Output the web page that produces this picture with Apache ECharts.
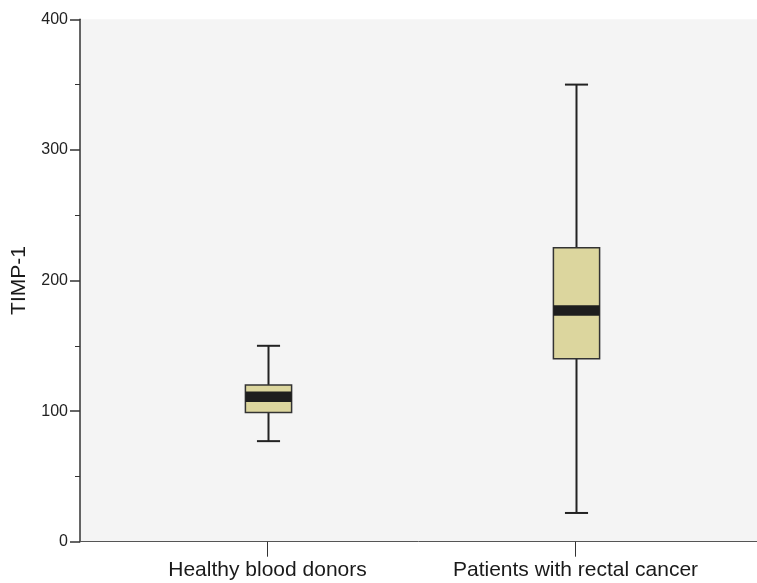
<!DOCTYPE html>
<html>
<head>
<meta charset="utf-8">
<script src="https://cdn.jsdelivr.net/npm/echarts@6/dist/echarts.min.js"></script>
<style>
html,body{margin:0;padding:0;background:#fff;}
#c{width:757px;height:583px;}
</style>
</head>
<body>
<div id="c"></div>
<script>
const categories = ['Healthy blood donors', 'Patients with rectal cancer'];
const whiskerLow = [77, 22];
const q1Values = [99, 140];
const medianValues = [111, 177];
const q3Values = [120, 225];
const whiskerHigh = [150, 350];
const yTicks = [0, 100, 200, 300, 400];

const boxData = categories.map((c, i) => [i, whiskerLow[i], q1Values[i], medianValues[i], q3Values[i], whiskerHigh[i]]);

function renderBox(params, api) {
  const x = api.value(0);
  const lo = api.coord([x, api.value(1)]);
  const q1 = api.coord([x, api.value(2)]);
  const md = api.coord([x, api.value(3)]);
  const q3 = api.coord([x, api.value(4)]);
  const hi = api.coord([x, api.value(5)]);
  const band = api.size([1, 0])[0];
  const bw = band * 0.15;
  const cw = bw / 2;
  const cx = Math.round(lo[0]) + 0.5;
  const lineStyle = { stroke: '#222', lineWidth: 2 };
  return {
    type: 'group',
    children: [
      { type: 'line', shape: { x1: cx, y1: hi[1], x2: cx, y2: q3[1] }, style: lineStyle },
      { type: 'line', shape: { x1: cx, y1: q1[1], x2: cx, y2: lo[1] }, style: lineStyle },
      { type: 'line', shape: { x1: cx - cw / 2, y1: hi[1], x2: cx + cw / 2, y2: hi[1] }, style: lineStyle },
      { type: 'line', shape: { x1: cx - cw / 2, y1: lo[1], x2: cx + cw / 2, y2: lo[1] }, style: lineStyle },
      { type: 'rect', shape: { x: cx - bw / 2, y: q3[1], width: bw, height: q1[1] - q3[1] },
        style: { fill: '#dcd69e', stroke: '#333', lineWidth: 1.5 } },
      { type: 'rect', shape: { x: cx - bw / 2, y: md[1] - 5.3, width: bw, height: 10.6 },
        style: { fill: '#1e1e1e' } }
    ]
  };
}

const chart = echarts.init(document.getElementById('c'));
chart.setOption({
  backgroundColor: '#fff',
  animation: false,
  grid: [
    { left: 80, right: 0, top: 19.3, bottom: 41.3, show: true, backgroundColor: '#f4f4f4', borderWidth: 0 },
    { left: 113.5, width: 616, top: 19.3, bottom: 41.3 }
  ],
  xAxis: [
    { type: 'value', gridIndex: 0, min: 0, max: 1,
      axisLine: { show: true, onZero: false, lineStyle: { color: '#555', width: 1 } },
      axisTick: { show: false }, axisLabel: { show: false }, splitLine: { show: false } },
    { type: 'category', gridIndex: 1, data: categories,
      axisLine: { show: false },
      axisTick: { show: true, alignWithLabel: true, interval: 0, length: 15, lineStyle: { color: '#333', width: 1 } },
      axisLabel: { interval: 0, fontSize: 21, color: '#1a1a1a', margin: 18, fontFamily: 'Liberation Sans, Arial, sans-serif' } }
  ],
  yAxis: [
    { type: 'value', gridIndex: 0, min: 0, max: 400, interval: 100,
      name: 'TIMP-1', nameLocation: 'middle', nameRotate: 90, nameGap: 50,
      nameTextStyle: { fontSize: 21, color: '#1a1a1a', fontFamily: 'Liberation Sans, Arial, sans-serif' },
      axisLine: { show: true, lineStyle: { color: '#333', width: 1.5 } },
      axisTick: { show: true, length: 10, lineStyle: { color: '#333', width: 1.5 } },
      minorTick: { show: true, splitNumber: 2, length: 5, lineStyle: { color: '#333', width: 1 } },
      axisLabel: { fontSize: 16, color: '#222', margin: 12, fontFamily: 'Liberation Sans, Arial, sans-serif',
        formatter: v => yTicks.includes(v) ? String(v) : '' },
      splitLine: { show: false } },
    { type: 'value', gridIndex: 1, min: 0, max: 400, show: false }
  ],
  series: [
    { type: 'custom', xAxisIndex: 1, yAxisIndex: 1, renderItem: renderBox,
      encode: { x: 0, y: [1, 2, 3, 4, 5] }, data: boxData }
  ]
});
</script>
</body>
</html>
